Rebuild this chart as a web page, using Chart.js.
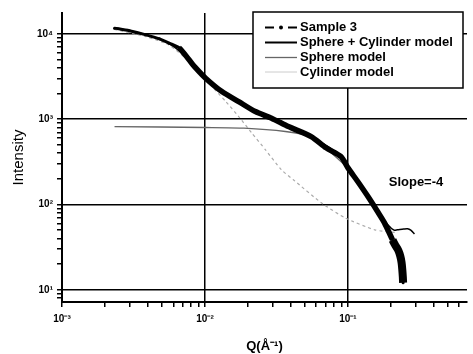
<!DOCTYPE html>
<html><head><meta charset="utf-8">
<script src="https://cdn.jsdelivr.net/npm/chart.js@4"></script>
<style>html,body{margin:0;padding:0;background:#fff}#wrap{width:473px;height:354px}</style>
</head><body><div id="wrap"><canvas id="c" width="473" height="354"></canvas></div>
<script>
// ---- data ----
const sampleQ = [0.00233,0.00296,0.00387,0.0048,0.00562,0.00659,0.00774,0.00861,0.0101,0.01313,0.0172,0.0225,0.0292,0.0383,0.0553,0.0703,0.0893,0.100,0.117,0.138,0.161,0.180,0.205,0.215,0.225,0.232,0.237,0.240,0.242,0.243];
const sampleI = [11700,10900,9760,8770,7800,6870,4970,4000,3030,2110,1610,1230,1030,820,627,462,365,269,186,124,82.8,61,38.5,33,29,25,21,17,14,12.1];

const comboQ = [0.00233,0.00387,0.00562,0.00774,0.0101,0.0172,0.0292,0.0553,0.0893,0.117,0.161,0.190,0.210,0.222,0.245,0.261,0.275,0.292];
const comboI = [11800,9800,7700,5000,3050,1620,1040,630,365,188,85,58,50,50.5,51.5,51.9,50,45.3];

const sphereQ = [0.00233,0.0101,0.0187,0.0365,0.0553,0.0703,0.100,0.138,0.161,0.185];
const sphereI = [821,800,787,718,627,455,265,122,80,55];

const cylQ = [0.00233,0.00387,0.00562,0.00774,0.0101,0.0140,0.0172,0.0212,0.0265,0.0343,0.0415,0.0650,0.0953,0.154,0.222];
const cylI = [11300,9300,7400,4750,2900,1610,1076,693,438,255,195,105,69.8,50.5,46.7];

const xTickLabels = {'-3':'10\u207B\u00B3','-2':'10\u207B\u00B2','-1':'10\u207B\u00B9'};
const yTickLabels = {'1':'10\u00B9','2':'10\u00B2','3':'10\u00B3','4':'10\u2074'};
const legendLabels = ['Sample 3','Sphere + Cylinder model','Sphere model','Cylinder model'];
const slopeText = 'Slope=-4';
const xTitle = 'Q(\u00C5\u207B\u00B9)';
const yTitle = 'Intensity';

// ---- helpers ----
const pts = (q, i) => q.map((v, k) => ({x: v, y: i[k]}));
const isDecade = v => { if (!(v > 0)) return false; const l = Math.log10(v); return Math.abs(l - Math.round(l)) < 1e-6; };
const isNice = v => { if (!(v > 0)) return false; const e = Math.floor(Math.log10(v) + 1e-9); const s = v / Math.pow(10, e); return Math.abs(s - Math.round(s)) < 1e-6; };
const FONT = "'Liberation Sans', Arial, sans-serif";

const legendPlugin = {
  id: 'boxLegend',
  afterDraw(chart) {
    const ctx = chart.ctx;
    ctx.save();
    const x0 = 253, y0 = 12, w = 210, h = 76;
    ctx.fillStyle = '#fff';
    ctx.fillRect(x0, y0, w, h);
    ctx.strokeStyle = '#000';
    ctx.lineWidth = 1.5;
    ctx.strokeRect(x0, y0, w, h);
    const rows = [27.5, 42.5, 57.5, 72];
    const lx0 = 265, lx1 = 297;
    ctx.strokeStyle = '#000'; ctx.lineWidth = 2;
    ctx.beginPath(); ctx.moveTo(lx0, rows[0]); ctx.lineTo(lx0 + 9, rows[0]);
    ctx.moveTo(lx1 - 9, rows[0]); ctx.lineTo(lx1, rows[0]); ctx.stroke();
    ctx.fillStyle = '#000'; ctx.beginPath(); ctx.arc((lx0 + lx1) / 2, rows[0], 2, 0, Math.PI * 2); ctx.fill();
    ctx.lineWidth = 2; ctx.strokeStyle = '#000';
    ctx.beginPath(); ctx.moveTo(lx0, rows[1]); ctx.lineTo(lx1, rows[1]); ctx.stroke();
    ctx.lineWidth = 1.3; ctx.strokeStyle = '#666';
    ctx.beginPath(); ctx.moveTo(lx0, rows[2]); ctx.lineTo(lx1, rows[2]); ctx.stroke();
    ctx.lineWidth = 1; ctx.strokeStyle = '#ccc';
    ctx.beginPath(); ctx.moveTo(lx0, rows[3]); ctx.lineTo(lx1, rows[3]); ctx.stroke();
    ctx.fillStyle = '#000';
    ctx.font = 'bold 13px ' + FONT;
    ctx.textBaseline = 'middle'; ctx.textAlign = 'left';
    legendLabels.forEach((t, k) => ctx.fillText(t, 300, rows[k]));
    ctx.textAlign = 'center';
    ctx.fillText(slopeText, 416, 182);
    ctx.restore();
  }
};

new Chart(document.getElementById('c'), {
  type: 'line',
  data: {
    datasets: [
      {label: legendLabels[0], data: pts(sampleQ, sampleI), borderColor: '#000', backgroundColor: '#000',
       pointRadius: 1.5, pointBorderWidth: 0, borderWidth: 5, tension: 0.25,
       segment: {borderWidth: c => c.p0.parsed.x < 0.006 ? 3 : (c.p0.parsed.x > 0.19 ? 8 : 5.5)}},
      {label: legendLabels[1], data: pts(comboQ, comboI), borderColor: '#000', borderWidth: 1.5, pointRadius: 0, tension: 0.3},
      {label: legendLabels[2], data: pts(sphereQ, sphereI), borderColor: '#666', borderWidth: 1.3, pointRadius: 0, tension: 0.2},
      {label: legendLabels[3], data: pts(cylQ, cylI), borderColor: '#aaa', borderWidth: 1.2, borderDash: [3, 3], pointRadius: 0, tension: 0.2}
    ]
  },
  options: {
    responsive: false, animation: false, devicePixelRatio: 1,
    layout: {padding: {left: 0, right: 3, top: 13, bottom: 0}},
    plugins: {legend: {display: false}, tooltip: {enabled: false}},
    scales: {
      x: {
        type: 'logarithmic', min: 0.001, max: 0.68,
        afterFit: s => { s.height = 52; },
        border: {display: true, color: '#000', width: 2},
        grid: {color: c => isDecade(c.tick && c.tick.value) ? '#000' : 'rgba(0,0,0,0)', lineWidth: 1.5,
               drawTicks: true, tickLength: 5, tickWidth: 1.5,
               tickColor: c => isNice(c.tick && c.tick.value) ? '#000' : 'rgba(0,0,0,0)'},
        ticks: {autoSkip: false, maxRotation: 0, padding: 6, color: '#000', font: {family: FONT, size: 10, weight: 'bold'},
                callback: v => isDecade(v) ? (xTickLabels[String(Math.round(Math.log10(v)))] || '') : ''},
        title: {display: true, text: xTitle, color: '#000', font: {family: FONT, size: 13, weight: 'bold'}, padding: {top: 0, bottom: 0}}
      },
      y: {
        type: 'logarithmic', min: 7.2, max: 17600,
        afterFit: s => { s.width = 62; },
        border: {display: true, color: '#000', width: 2},
        grid: {color: c => isDecade(c.tick && c.tick.value) ? '#000' : 'rgba(0,0,0,0)', lineWidth: 1.5,
               drawTicks: true, tickLength: 5, tickWidth: 1.5,
               tickColor: c => isNice(c.tick && c.tick.value) ? '#000' : 'rgba(0,0,0,0)'},
        ticks: {autoSkip: false, padding: 4, color: '#000', font: {family: FONT, size: 10, weight: 'bold'},
                callback: v => isDecade(v) ? (yTickLabels[String(Math.round(Math.log10(v)))] || '') : ''},
        title: {display: true, text: yTitle, color: '#000', font: {family: FONT, size: 15}, padding: {top: 10, bottom: 0}}
      }
    }
  },
  plugins: [legendPlugin]
});
</script>
</body></html>
